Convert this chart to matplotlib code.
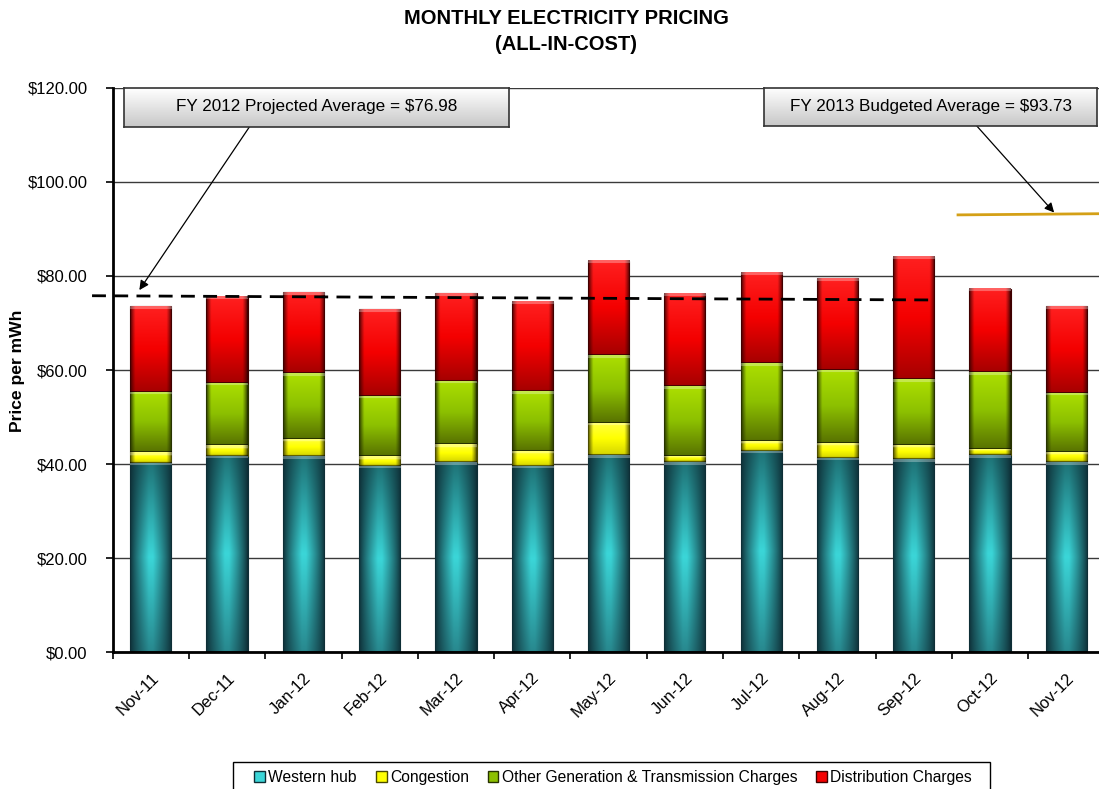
import numpy as np
import matplotlib
matplotlib.use('Agg')
import matplotlib.pyplot as plt
from matplotlib.patches import Patch, Rectangle
from matplotlib.colors import to_rgb

plt.rcParams['font.family'] = ['Liberation Sans', 'DejaVu Sans']

# %%
months = ['Nov-11', 'Dec-11', 'Jan-12', 'Feb-12', 'Mar-12', 'Apr-12', 'May-12',
          'Jun-12', 'Jul-12', 'Aug-12', 'Sep-12', 'Oct-12', 'Nov-12']
western_hub = [40.3, 41.8, 41.6, 39.6, 40.4, 39.6, 41.9, 40.4, 42.8, 41.3, 41.0, 41.9, 40.4]
congestion = [2.3, 2.2, 3.8, 2.0, 3.8, 3.2, 6.9, 1.4, 2.2, 3.2, 3.1, 1.3, 2.2]
other_gen = [12.8, 13.2, 14.0, 12.9, 13.5, 12.7, 14.3, 14.8, 16.4, 15.6, 13.9, 16.3, 12.6]
distribution = [18.2, 18.3, 17.1, 18.5, 18.6, 19.0, 20.1, 19.6, 19.2, 19.5, 26.0, 17.7, 18.4]

series_names = ['Western hub', 'Congestion', 'Other Generation & Transmission Charges',
                'Distribution Charges']

fy12_label = 'FY 2012 Projected Average = $76.98'
fy13_label = 'FY 2013 Budgeted Average = $93.73'
fy12_line = [75.8, 74.9]     # dashed trend line, start / end
fy12_line_x = [-0.77, 10.22]
fy13_line = [93.0, 93.3]
fy13_line_x = [10.58, 12.8]

# top, middle, bottom, edge colours for the bevelled bars
shades = [
    ['#1e7276', '#3bd6d8', '#28888e', '#0e2e36'],
    ['#ffff40', '#ffff00', '#d6d600', '#4a4a00'],
    ['#acdf00', '#8cc000', '#587200', '#263200'],
    ['#ff2020', '#f40000', '#a60000', '#3e0000'],
]
edge_width = [0.45, 0.12, 0.12, 0.12]


# %%
def bevel(ax, patch, cols, ew, px_per_unit):
    x0, y0 = patch.get_x(), patch.get_y()
    w, h = patch.get_width(), patch.get_height()
    top, mid, bot, edge = [np.array(to_rgb(c)) for c in cols]
    ny = max(int(h * px_per_unit), 3)
    nx = 44
    u = np.linspace(0, 1, nx)
    v = np.linspace(0, 1, ny)
    base = np.where(v[:, None] < 0.5,
                    top + (mid - top) * (v[:, None] / 0.5),
                    mid + (bot - mid) * ((v[:, None] - 0.5) / 0.5))
    e = np.clip(np.minimum(u, 1 - u) / ew, 0, 1) ** 0.8
    img = edge + (base[:, None, :] - edge) * e[None, :, None]
    # light rim along the top, darker line at the bottom
    k = min(3, ny // 3)
    img[:k] = img[:k] * 0.7 + 0.3
    img[-1:] = img[-1:] * 0.45
    ax.imshow(np.clip(img, 0, 1), extent=(x0, x0 + w, y0, y0 + h), origin='upper',
              aspect='auto', interpolation='bilinear', zorder=3)


# %%
fig = plt.figure(figsize=(10.99, 7.89), dpi=100)
ax = fig.add_axes([0.1025, 0.1736, 0.9025, 0.7149])

x = np.arange(len(months))
stack = [western_hub, congestion, other_gen, distribution]
bottom = np.zeros(len(months))
for vals, cols, ew in zip(stack, shades, edge_width):
    bars = ax.bar(x, vals, 0.54, bottom=bottom, color=cols[1], edgecolor=cols[3],
                  linewidth=0.8, zorder=2)
    for p in bars:
        bevel(ax, p, cols, ew, 4.7)
    bottom += np.array(vals)

ax.set_xlim(-0.5, len(months) - 0.5)
ax.set_ylim(0, 120)
ax.set_yticks(np.arange(0, 121, 20))
ax.set_yticklabels([f'${v:.2f}' for v in np.arange(0, 121, 20)], fontsize=12)
ax.set_xticks(x)
ax.set_xticklabels(months, rotation=45, ha='right', va='top', rotation_mode='anchor',
                   fontsize=12)
ax.set_xticks(np.arange(-0.5, len(months)), minor=True)
ax.tick_params(axis='x', which='major', length=0, pad=13)
ax.tick_params(axis='x', which='minor', length=5, width=1.2, direction='out')
ax.tick_params(axis='y', length=5, width=1.2, direction='out', pad=13)

ax.grid(axis='y', color='#3a3a3a', linewidth=1)
ax.set_axisbelow(True)
for s in ['top', 'right']:
    ax.spines[s].set_visible(False)
for s in ['left', 'bottom']:
    ax.spines[s].set_linewidth(2)
    ax.spines[s].set_zorder(5)

# average lines
ax.plot(fy12_line_x, fy12_line, color='black', linestyle=(0, (5, 3)), linewidth=2,
        clip_on=False, zorder=6)
ax.plot(fy13_line_x, fy13_line, color='#d4a017', linewidth=2, clip_on=False, zorder=6)


# %%
def callout(rect, label):
    bx = fig.add_axes(rect)
    shadow = fig.add_axes([rect[0] + 0.002, rect[1] - 0.003, rect[2], rect[3]], zorder=bx.get_zorder() - 1)
    shadow.set_facecolor('#555555')
    shadow.set_xticks([]); shadow.set_yticks([])
    for s in shadow.spines.values():
        s.set_visible(False)
    g = np.linspace(1.0, 0.78, 40)[:, None] * np.ones((1, 10))
    bx.imshow(g, cmap='gray', vmin=0, vmax=1, aspect='auto', extent=(0, 1, 0, 1),
              interpolation='bilinear')
    bx.set_xticks([]); bx.set_yticks([])
    for s in bx.spines.values():
        s.set_color('#333333')
        s.set_linewidth(1.2)
    bx.text(0.5, 0.52, label, ha='center', va='center', fontsize=12.3, transform=bx.transAxes)


callout([0.1128, 0.8390, 0.3503, 0.0494], fy12_label)
callout([0.6952, 0.8403, 0.3030, 0.0482], fy13_label)

arrow = dict(arrowstyle='-|>', color='black', lw=0.9, mutation_scale=14, shrinkA=0, shrinkB=0)
ax.annotate('', xy=(-0.15, 77.0), xytext=(0.2275, 0.8403), textcoords='figure fraction',
            arrowprops=arrow, annotation_clip=False, zorder=7)
ax.annotate('', xy=(11.84, 93.5), xytext=(0.888, 0.8416), textcoords='figure fraction',
            arrowprops=arrow, annotation_clip=False, zorder=7)

# %%
fig.text(0.515, 0.977, 'MONTHLY ELECTRICITY PRICING', ha='center', va='center',
         fontsize=14.5, fontweight='bold')
fig.text(0.515, 0.943, '(ALL-IN-COST)', ha='center', va='center',
         fontsize=14.5, fontweight='bold')
fig.text(0.016, 0.53, 'Price per mWh', rotation=90, ha='center', va='center',
         fontsize=12.6, fontweight='bold')

# legend: entries without frame, box drawn separately so it can run off the bottom edge
handles = [Patch(facecolor=c[1], edgecolor=c[3], linewidth=1) for c in shades]
leg = fig.legend(handles, series_names, loc='center left', bbox_to_anchor=(0.2315, 0.0152),
                 ncol=4, fontsize=11.25, frameon=False,
                 handlelength=0.7, handleheight=0.7, handletextpad=0.2, columnspacing=1.2,
                 borderpad=0, borderaxespad=0)
fig.patches.append(Rectangle((0.212, -0.02), 0.689, 0.054, transform=fig.transFigure,
                             facecolor='none', edgecolor='black', linewidth=1))

fig.savefig('out.png', dpi=100)
